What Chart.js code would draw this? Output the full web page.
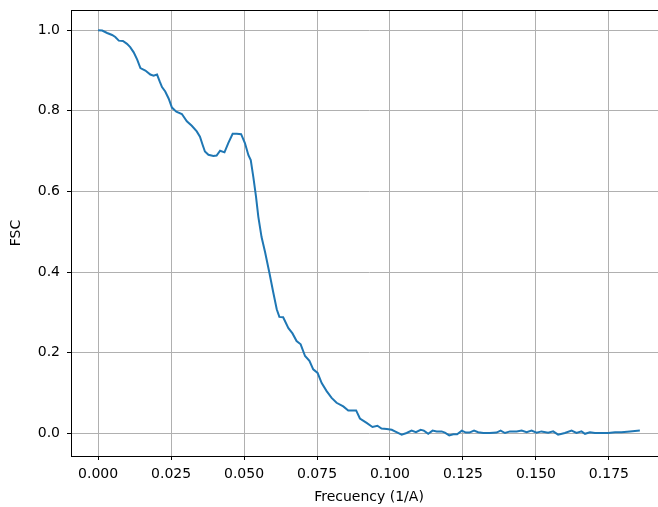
<!DOCTYPE html>
<html>
<head>
<meta charset="utf-8">
<script src="https://cdn.jsdelivr.net/npm/chart.js@4.4.1/dist/chart.umd.min.js"></script>
<style>
  html, body { margin: 0; padding: 0; background: #fff; overflow: hidden; }
  #wrap { width: 670px; height: 507px; }
</style>
</head>
<body>
<div id="wrap"><canvas id="fsc" width="670" height="507"></canvas></div>
<script>
// frequency (1/A) and FSC values
const freq = [
  0.0000, 0.0014, 0.0031, 0.0048, 0.0059, 0.0071, 0.0085, 0.0099, 0.0110, 0.0122,
  0.0134, 0.0145, 0.0162, 0.0179, 0.0190, 0.0202, 0.0211, 0.0219, 0.0230, 0.0242,
  0.0253, 0.0268, 0.0287, 0.0304, 0.0321, 0.0338, 0.0349, 0.0358, 0.0366, 0.0378,
  0.0395, 0.0406, 0.0418, 0.0433, 0.0446, 0.0461, 0.0475, 0.0490, 0.0503, 0.0515,
  0.0523, 0.0532, 0.0541, 0.0549, 0.0560, 0.0572, 0.0587, 0.0600, 0.0612, 0.0621,
  0.0634, 0.0652, 0.0666, 0.0680, 0.0694, 0.0709, 0.0724, 0.0737, 0.0752, 0.0766,
  0.0783, 0.0800, 0.0817, 0.0840, 0.0857, 0.0884, 0.0897, 0.0920, 0.0940, 0.0957,
  0.0971, 0.0989, 0.1006, 0.1017, 0.1040, 0.1057, 0.1074, 0.1089, 0.1105, 0.1116,
  0.1131, 0.1146, 0.1160, 0.1177, 0.1188, 0.1203, 0.1217, 0.1230, 0.1246, 0.1260,
  0.1272, 0.1288, 0.1302, 0.1320, 0.1342, 0.1365, 0.1379, 0.1394, 0.1411, 0.1434,
  0.1451, 0.1468, 0.1485, 0.1502, 0.1519, 0.1542, 0.1559, 0.1576, 0.1599, 0.1622,
  0.1639, 0.1656, 0.1668, 0.1685, 0.1702, 0.1725, 0.1748, 0.1771, 0.1793, 0.1822,
  0.1856
];
const fsc = [
  1.000, 0.999, 0.993, 0.988, 0.983, 0.974, 0.973, 0.966, 0.958, 0.945,
  0.927, 0.906, 0.900, 0.890, 0.887, 0.890, 0.873, 0.859, 0.848, 0.830,
  0.808, 0.798, 0.792, 0.774, 0.763, 0.749, 0.736, 0.716, 0.699, 0.691,
  0.688, 0.689, 0.701, 0.697, 0.720, 0.743, 0.743, 0.742, 0.720, 0.690,
  0.678, 0.635, 0.587, 0.537, 0.487, 0.450, 0.398, 0.350, 0.308, 0.289,
  0.288, 0.261, 0.248, 0.229, 0.221, 0.192, 0.180, 0.159, 0.150, 0.125,
  0.105, 0.088, 0.076, 0.067, 0.057, 0.057, 0.037, 0.026, 0.016, 0.019,
  0.012, 0.011, 0.009, 0.005, -0.003, 0.001, 0.007, 0.003, 0.009, 0.007,
  -0.001, 0.007, 0.005, 0.005, 0.002, -0.005, -0.002, -0.002, 0.007, 0.002,
  0.002, 0.007, 0.003, 0.001, 0.001, 0.002, 0.007, 0.001, 0.005, 0.005,
  0.007, 0.003, 0.007, 0.002, 0.005, 0.002, 0.005, -0.003, 0.001, 0.007,
  0.001, 0.005, -0.001, 0.003, 0.001, 0.001, 0.001, 0.003, 0.003, 0.005,
  0.007
];
const xTicks = [0, 0.025, 0.05, 0.075, 0.1, 0.125, 0.15, 0.175];
const yTicks = [0, 0.2, 0.4, 0.6, 0.8, 1.0];

const font = { family: 'DejaVu Sans', size: 14 };

// matplotlib-like box around the plot area
const frame = {
  id: 'frame',
  afterDraw(chart) {
    const { ctx, chartArea: a } = chart;
    ctx.save();
    ctx.strokeStyle = '#000';
    ctx.lineWidth = 1;
    ctx.strokeRect(a.left + 0.5, a.top + 0.5, a.right - a.left, a.bottom - a.top);
    ctx.restore();
  }
};

new Chart(document.getElementById('fsc'), {
  type: 'line',
  data: {
    datasets: [{
      data: freq.map((f, i) => ({ x: f, y: fsc[i] })),
      borderColor: '#1f77b4',
      borderWidth: 2,
      pointRadius: 0,
      tension: 0,
      fill: false
    }]
  },
  options: {
    responsive: false,
    animation: false,
    devicePixelRatio: 1,
    layout: { padding: { top: 10, right: 3, left: 0, bottom: 0 } },
    plugins: { legend: { display: false }, tooltip: { enabled: false } },
    scales: {
      x: {
        type: 'linear',
        min: -0.00928,
        max: 0.1949,
        afterBuildTicks: s => { s.ticks = xTicks.map(v => ({ value: v })); },
        afterFit: s => { s.height = 51; s.paddingLeft = 0; s.paddingRight = 0; },
        grid: { color: '#b0b0b0', tickColor: '#000', tickLength: 4 },
        border: { color: '#000' },
        ticks: { font, color: '#000', padding: 6, maxRotation: 0, callback: v => v.toFixed(3) },
        title: { display: true, text: 'Frecuency (1/A)', font, color: '#000', padding: { top: 0, bottom: 1 } }
      },
      y: {
        min: -0.056,
        max: 1.05,
        afterBuildTicks: s => { s.ticks = yTicks.map(v => ({ value: v })); },
        afterFit: s => { s.width = 71; s.paddingTop = 0; s.paddingBottom = 0; },
        grid: { color: '#b0b0b0', tickColor: '#000', tickLength: 4 },
        border: { color: '#000' },
        ticks: { font, color: '#000', padding: 7, callback: v => v.toFixed(1) },
        title: { display: true, text: 'FSC', font, color: '#000', padding: { top: 8, bottom: 0 } }
      }
    }
  },
  plugins: [frame]
});
</script>
</body>
</html>
